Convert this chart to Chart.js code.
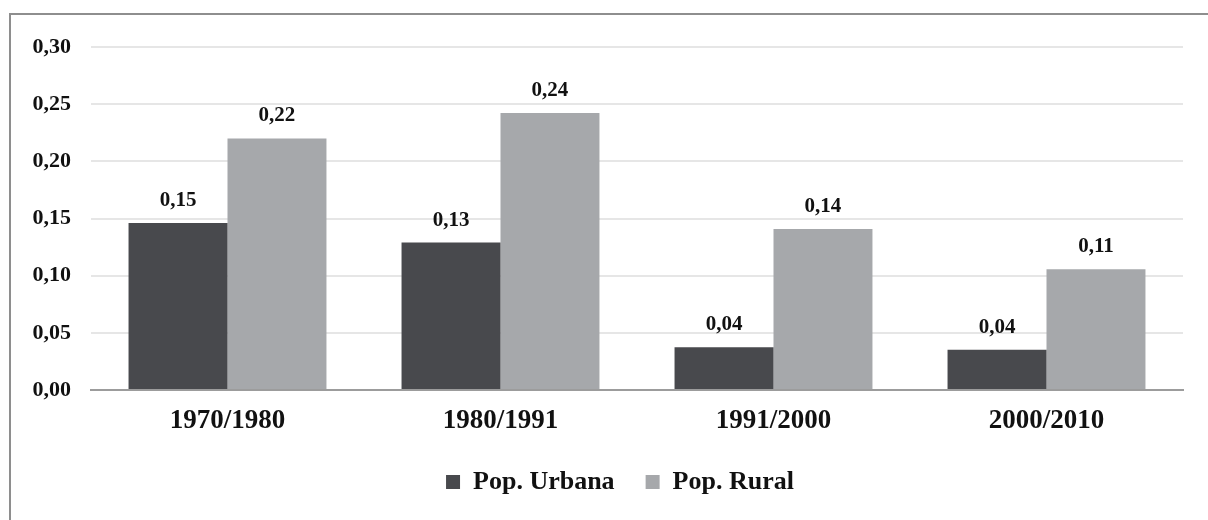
<!DOCTYPE html>
<html><head><meta charset="utf-8">
<script src="https://cdn.jsdelivr.net/npm/chart.js@4"></script>
<style>
html,body{margin:0;padding:0;background:#fff;overflow:hidden}
#wrap{position:relative;width:1208px;height:520px}
#frame{position:absolute;left:9px;top:13px;width:1300px;height:600px;border-left:2px solid #8e8e8e;border-top:2px solid #8e8e8e}
#c{position:absolute;left:0;top:0}
</style></head><body>
<div id="wrap"><div id="frame"></div><canvas id="c"></canvas></div>
<script>
const categories = ['1970/1980', '1980/1991', '1991/2000', '2000/2010'];
const seriesNames = ['Pop. Urbana', 'Pop. Rural'];
const urbana = [0.146, 0.129, 0.0374, 0.0352];
const rural = [0.220, 0.2423, 0.1408, 0.1057];
const yTicks = [0, 0.05, 0.10, 0.15, 0.20, 0.25, 0.30];

const fmt = v => v.toFixed(2).replace('.', ',');
const FONT = '"Liberation Serif", "Times New Roman", serif';

const valueLabels = {
  id: 'valueLabels',
  afterLayout(chart) {
    // shift the legend block right so it sits where the reference has it
    if (chart.legend) { chart.legend.left += 57; }
  },
  afterDatasetsDraw(chart) {
    const ctx = chart.ctx;
    ctx.save();
    ctx.font = 'bold 21px ' + FONT;
    ctx.fillStyle = '#111';
    ctx.textAlign = 'center';
    ctx.textBaseline = 'alphabetic';
    chart.data.datasets.forEach((ds, di) => {
      chart.getDatasetMeta(di).data.forEach((bar, i) => {
        ctx.fillText(fmt(ds.data[i]), bar.x, bar.y - 17);
      });
    });
    ctx.restore();
  }
};

new Chart(document.getElementById('c'), {
  type: 'bar',
  data: {
    labels: categories,
    datasets: [
      { label: seriesNames[0], data: urbana, backgroundColor: '#48494d', borderWidth: 0 },
      { label: seriesNames[1], data: rural, backgroundColor: '#a6a8ab', borderWidth: 0 }
    ]
  },
  options: {
    responsive: true,
    maintainAspectRatio: false,
    animation: false,
    events: [],
    layout: { padding: { top: 47, left: 0, right: 25, bottom: 15 } },
    datasets: { bar: { barPercentage: 1, categoryPercentage: 0.725 } },
    plugins: {
      tooltip: { enabled: false },
      legend: {
        position: 'bottom',
        labels: {
          font: { family: FONT, size: 26, weight: 'bold' },
          color: '#111',
          boxWidth: 14,
          boxHeight: 14,
          padding: 31
        }
      }
    },
    scales: {
      x: {
        grid: { display: false, drawTicks: false },
        border: { display: true, color: '#9c9c9c', width: 2 },
        ticks: { font: { family: FONT, size: 27, weight: 'bold' }, color: '#111', padding: 15 },
        afterFit: s => { s.height = 48; }
      },
      y: {
        min: 0,
        max: 0.3,
        grid: { color: '#e6e6e6', lineWidth: 2, drawTicks: false },
        border: { display: false },
        ticks: {
          font: { family: FONT, size: 22, weight: 'bold' },
          color: '#111',
          padding: 20,
          callback: v => fmt(v)
        },
        afterBuildTicks: s => { s.ticks = yTicks.map(v => ({ value: v })); },
        afterFit: s => { s.width = 91; }
      }
    }
  },
  plugins: [valueLabels]
});
</script>
</body></html>
